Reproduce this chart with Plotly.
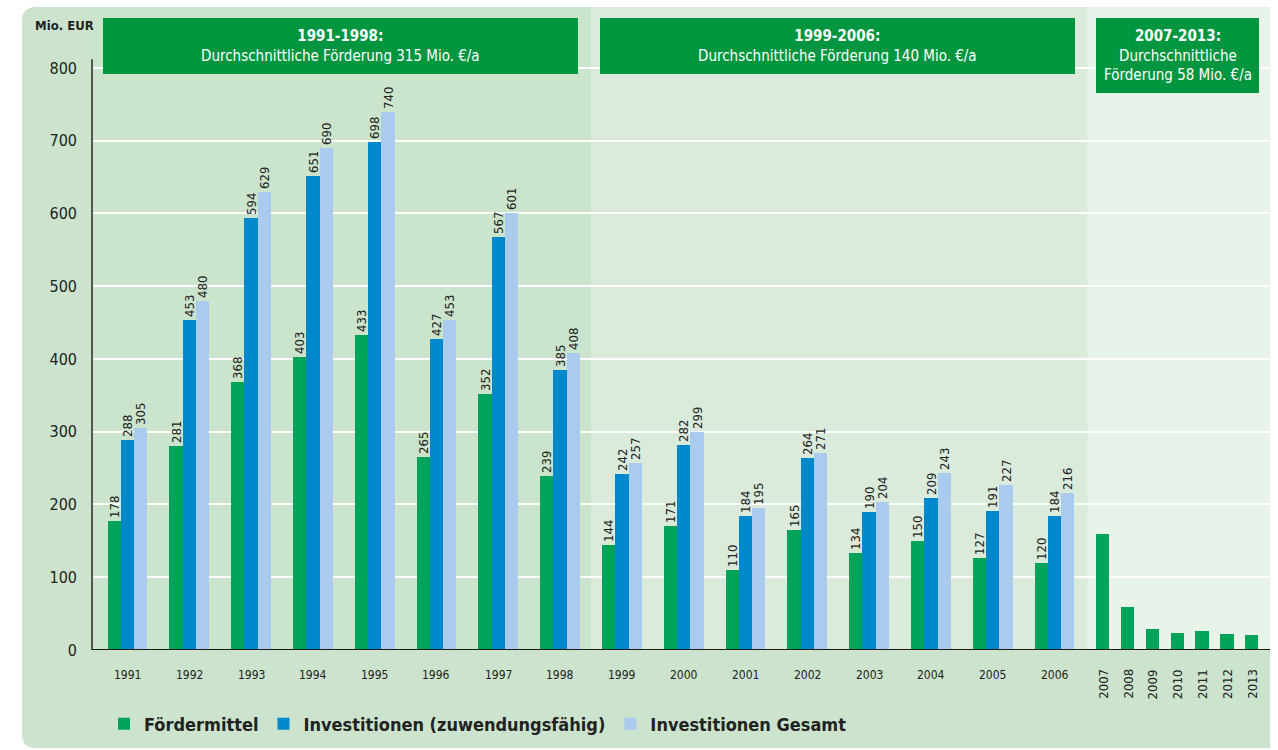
import plotly.graph_objects as go

# ---- data -------------------------------------------------------------
years_main = [1991, 1992, 1993, 1994, 1995, 1996, 1997, 1998,
              1999, 2000, 2001, 2002, 2003, 2004, 2005, 2006]
years_late = [2007, 2008, 2009, 2010, 2011, 2012, 2013]

foerdermittel_main = [178, 281, 368, 403, 433, 265, 352, 239,
                      144, 171, 110, 165, 134, 150, 127, 120]
foerdermittel_late = [160, 59, 29, 23, 26, 22, 21]
invest_zuwendung = [288, 453, 594, 651, 698, 427, 567, 385,
                    242, 282, 184, 264, 190, 209, 191, 184]
invest_gesamt = [305, 480, 629, 690, 740, 453, 601, 408,
                 257, 299, 195, 271, 204, 243, 227, 216]

series_names = ["Fördermittel", "Investitionen (zuwendungsfähig)", "Investitionen Gesamt"]
y_ticks = [0, 100, 200, 300, 400, 500, 600, 700, 800]
period_titles = ["1991-1998:", "1999-2006:", "2007-2013:"]
period_texts = ["Durchschnittliche Förderung 315 Mio. €/a",
                "Durchschnittliche Förderung 140 Mio. €/a",
                "Durchschnittliche<br>Förderung 58 Mio. €/a"]
unit_label = "Mio. EUR"

# ---- styling ----------------------------------------------------------
FONT = "DejaVu Sans Condensed, Liberation Sans Narrow, Arial Narrow, sans-serif"
C_GREEN = "#00a459"
C_BLUE = "#0088cc"
C_LIGHT = "#abcbee"
C_HEAD = "#009640"
C_CARD = "#cce4cd"
C_P1 = "#cbe4cc"
C_P2 = "#daebdc"
C_P3 = "#e8f3ea"
TEXT = "#222222"

W, H = 1278, 750
ML, MR, MT, MB = 92, 8, 7, 100
PW, PH = W - ML - MR, H - MT - MB

BW = 0.215            # bar width (group spacing = 1)
LATE_START = 15.78    # x of first single-bar year
LATE_STEP = 0.402
X_RANGE = [-0.574, 18.487]
Y_RANGE = [0, 883.8]

x_main = list(range(len(years_main)))
x_late = [LATE_START + LATE_STEP * j for j in range(len(years_late))]


def px(x):
    return (x - ML) / PW


def py(y):
    return (H - MB - y) / PH


fig = go.Figure()

label_font = dict(family=FONT, size=13, color=TEXT)
bar_text = dict(textposition="outside", textangle=-90, textfont=label_font,
                constraintext="none", cliponaxis=False, hoverinfo="skip")

fig.add_trace(go.Bar(
    x=[x - BW for x in x_main] + x_late,
    y=foerdermittel_main + foerdermittel_late,
    width=BW, marker=dict(color=C_GREEN, line=dict(width=0)),
    name=series_names[0],
    text=[str(v) for v in foerdermittel_main] + [""] * len(years_late),
    **bar_text,
))
fig.add_trace(go.Bar(
    x=x_main, y=invest_zuwendung, width=BW,
    marker=dict(color=C_BLUE, line=dict(width=0)),
    name=series_names[1],
    text=[str(v) for v in invest_zuwendung],
    **bar_text,
))
fig.add_trace(go.Bar(
    x=[x + BW for x in x_main], y=invest_gesamt, width=BW,
    marker=dict(color=C_LIGHT, line=dict(width=0)),
    name=series_names[2],
    text=[str(v) for v in invest_gesamt],
    **bar_text,
))

shapes = []
# rounded card behind the whole chart
x0c, x1c, y0c, y1c, r = px(22), px(1270), py(7), py(748), 14
rx, ry = r / PW, r / PH
shapes.append(dict(
    type="path", xref="paper", yref="paper", layer="below",
    path=(f"M{x0c + rx},{y0c} L{x1c},{y0c} L{x1c},{y1c} L{x0c + rx},{y1c} "
          f"Q{x0c},{y1c} {x0c},{y1c + ry} L{x0c},{y0c - ry} "
          f"Q{x0c},{y0c} {x0c + rx},{y0c} Z"),
    fillcolor=C_CARD, line=dict(width=0)))

# period background bands
bounds = [X_RANGE[0], 7.5, 15.53, X_RANGE[1]]
for (a, b), col in zip(zip(bounds[:-1], bounds[1:]), [C_P1, C_P2, C_P3]):
    shapes.append(dict(type="rect", xref="x", yref="paper", layer="below",
                       x0=a, x1=b, y0=0, y1=1, fillcolor=col, line=dict(width=0)))

# axes lines
shapes.append(dict(type="line", xref="paper", yref="y", x0=0, x1=0, y0=0, y1=812,
                   line=dict(color="#555555", width=2)))
shapes.append(dict(type="line", xref="paper", yref="y", x0=0, x1=1, y0=0, y1=0,
                   line=dict(color="#1a1a1a", width=2)))

# period header boxes
head_boxes = [(103, 578, 18, 74), (600, 1075, 18, 74), (1096, 1259, 18, 93)]
for (a, b, t, btm) in head_boxes:
    shapes.append(dict(type="rect", xref="paper", yref="paper",
                       x0=px(a), x1=px(b), y0=py(btm), y1=py(t),
                       fillcolor=C_HEAD, line=dict(width=0)))

annotations = []
for (a, b, t, btm), title, txt in zip(head_boxes, period_titles, period_texts):
    annotations.append(dict(
        xref="paper", yref="paper", x=px((a + b) / 2), y=py((t + btm) / 2),
        xanchor="center", yanchor="middle", showarrow=False, align="center",
        text=f"<b>{title}</b><br>{txt}",
        font=dict(family=FONT, size=15, color="white")))

# year labels
for x, yr in zip(x_main, years_main):
    annotations.append(dict(xref="x", yref="paper", x=x, y=py(675),
                            xanchor="center", yanchor="middle", showarrow=False,
                            text=str(yr), font=dict(family=FONT, size=12, color=TEXT)))
for x, yr in zip(x_late, years_late):
    annotations.append(dict(xref="x", yref="paper", x=x, y=py(684),
                            xanchor="center", yanchor="middle", showarrow=False,
                            textangle=-90, text=str(yr),
                            font=dict(family=FONT, size=13, color=TEXT)))

annotations.append(dict(xref="paper", yref="paper", x=px(33), y=py(25),
                        xanchor="left", yanchor="middle", showarrow=False,
                        text=f"<b>{unit_label}</b>",
                        font=dict(family=FONT, size=13, color=TEXT)))

fig.update_layout(
    width=W, height=H,
    margin=dict(l=ML, r=MR, t=MT, b=MB, pad=0),
    paper_bgcolor="white", plot_bgcolor="rgba(0,0,0,0)",
    barmode="overlay", bargap=0,
    font=dict(family=FONT, color=TEXT),
    shapes=shapes, annotations=annotations,
    showlegend=True,
    legend=dict(orientation="h", x=px(104), y=py(724), xanchor="left", yanchor="middle",
                bgcolor="rgba(0,0,0,0)", traceorder="normal",
                font=dict(family=FONT, size=18, color=TEXT, weight="bold"),
                itemsizing="constant"),
    xaxis=dict(range=X_RANGE, showgrid=False, zeroline=False, showline=False,
               showticklabels=False, ticks="", fixedrange=True),
    yaxis=dict(range=Y_RANGE, tickvals=y_ticks, ticktext=[str(v) for v in y_ticks],
               showgrid=True, gridcolor="white", gridwidth=2, zeroline=False,
               showline=False, ticks="", ticklabelstandoff=14,
               tickfont=dict(family=FONT, size=16, color=TEXT), fixedrange=True),
)

fig.write_html("out.html")
